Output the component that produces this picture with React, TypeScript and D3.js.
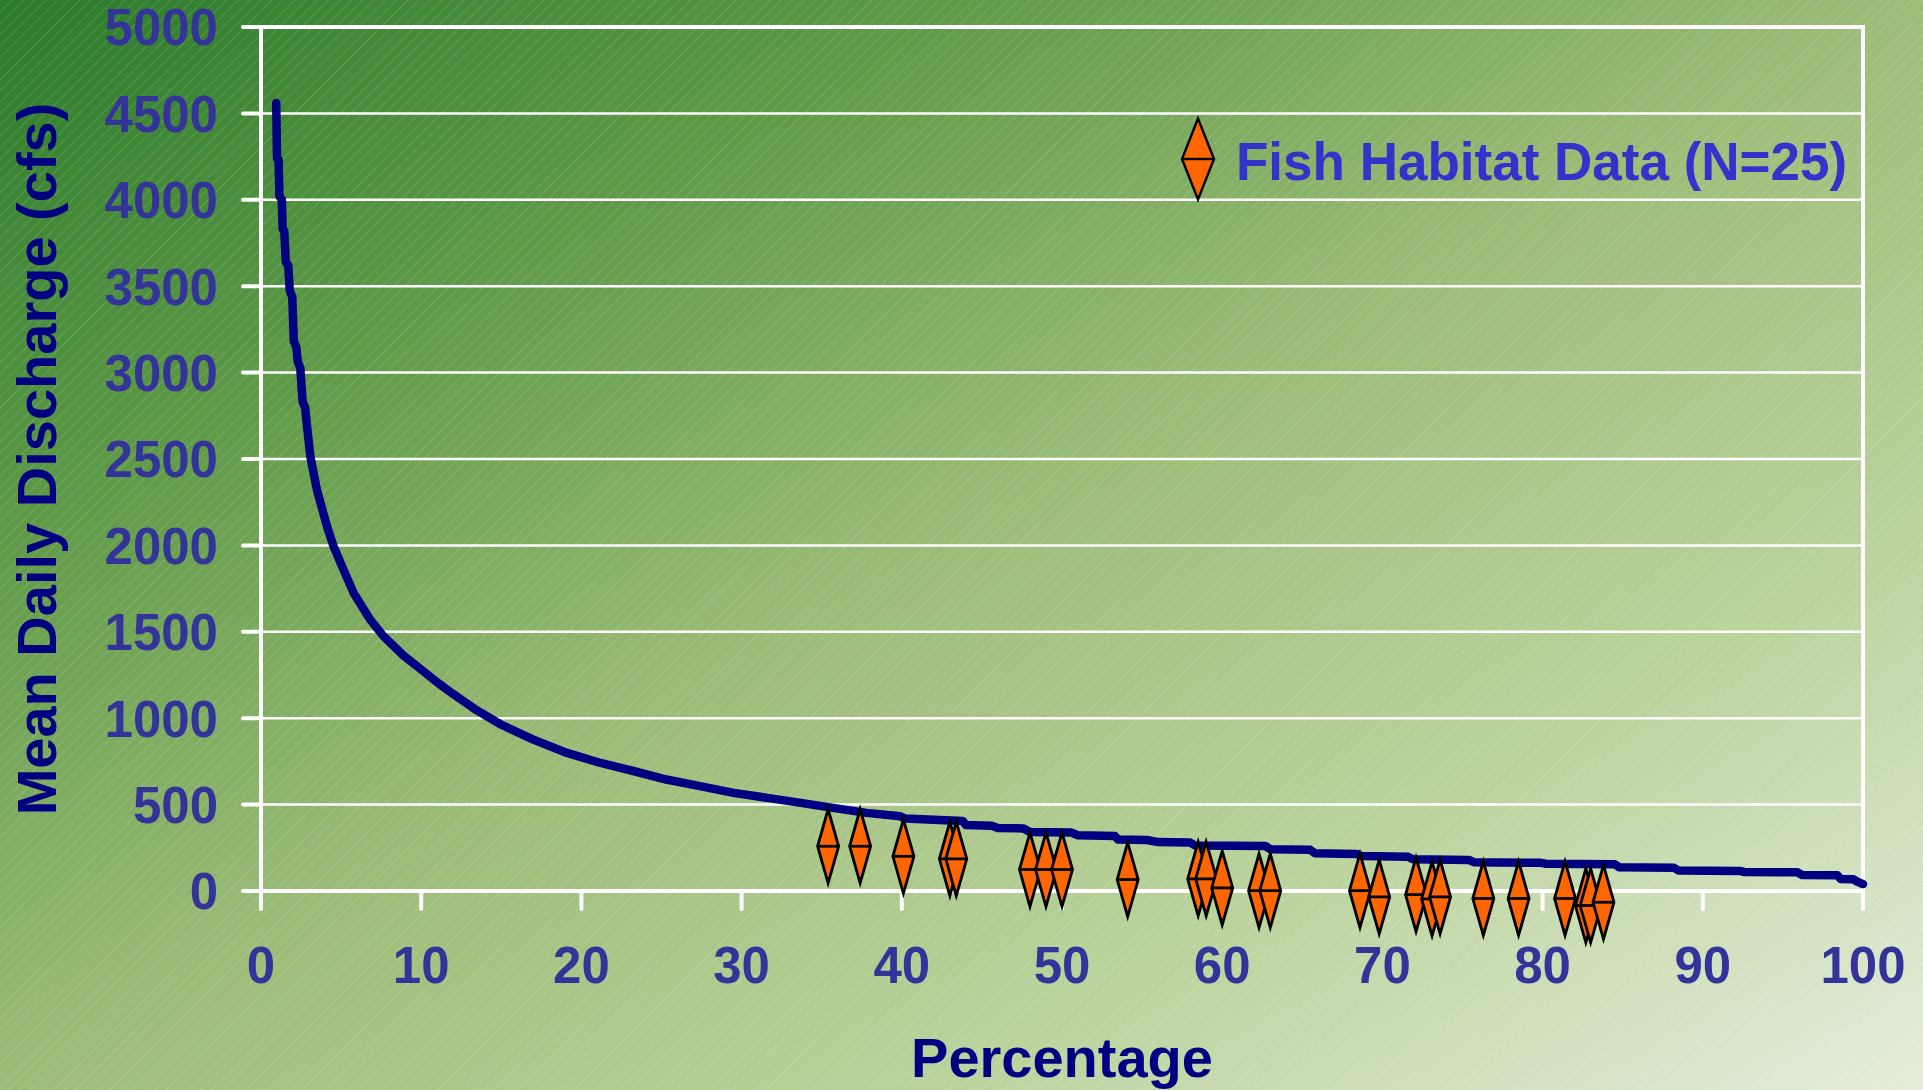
import * as d3 from "d3";

const W = 1923;
const H = 1090;

// axis ticks
const xTicks = [0, 10, 20, 30, 40, 50, 60, 70, 80, 90, 100];
const yTicks = [0, 500, 1000, 1500, 2000, 2500, 3000, 3500, 4000, 4500, 5000];

// flow duration curve (percent exceeded, cfs)
const curvePct = [
  0.95, 1.0, 1.1, 1.15, 1.3, 1.35, 1.45, 1.55, 1.7, 1.8, 1.95, 2.05, 2.2, 2.3,
  2.45, 2.6, 2.75, 2.85, 3.08, 3.49, 4.12, 4.53, 5.06, 5.78, 6.82, 7.65, 8.9,
  9.94, 10.99, 12.02, 13.48, 15.0, 17.0, 19.1, 21.2, 23.3, 25.3, 27.4, 29.5,
  31.6, 33.7, 35.7, 37.8, 39.9, 40.2, 43.8, 44.0, 45.6, 46.0, 47.6, 48.0, 50.6,
  51.0, 53.3, 53.5, 55.3, 56.0, 58.0, 58.3, 62.7, 63.0, 65.5, 65.8, 68.4, 68.7,
  71.6, 71.9, 75.4, 75.7, 79.9, 80.2, 84.5, 84.8, 88.2, 88.5, 92.3, 92.6, 95.9,
  96.2, 98.4, 98.6, 99.4, 99.6, 100,
];
const curveQ = [
  4560, 4240, 4230, 4020, 4000, 3830, 3820, 3640, 3620, 3470, 3440, 3180, 3150,
  3060, 3030, 2830, 2800, 2710, 2515, 2322, 2110, 1994, 1879, 1725, 1570, 1474,
  1362, 1286, 1208, 1138, 1045, 962, 876, 799, 741, 693, 645, 607, 568, 539,
  510, 481, 452, 432, 420, 405, 382, 378, 365, 362, 342, 338, 322, 318, 298,
  295, 283, 280, 264, 260, 242, 238, 218, 214, 202, 198, 184, 180, 167, 163,
  158, 155, 137, 134, 118, 116, 110, 108, 93, 91, 70, 68, 56, 40,
];

// fish habitat observations (N=25)
const habitatPct = [
  35.4, 37.4, 40.1, 43.0, 43.4, 48.0, 49.0, 50.0, 54.1, 58.5, 59.0, 60.0, 62.3,
  63.0, 68.6, 69.8, 72.1, 73.1, 73.6, 76.3, 78.5, 81.4, 82.7, 83.0, 83.8,
];
const habitatQ = [
  259, 259, 201, 186, 186, 124, 124, 124, 66, 70, 70, 18, 2, 2, 2, -34, -21,
  -46, -34, -43, -43, -43, -84, -84, -65,
];

const FONT = "'Liberation Sans', Arial, Helvetica, sans-serif";

function diamond(cx: number, cy: number, w: number, h: number) {
  return `M${cx},${cy - h / 2}L${cx + w / 2},${cy}L${cx},${cy + h / 2}L${cx - w / 2},${cy}Z`;
}

export default function App() {
  const x = d3.scaleLinear().domain([0, 100]).range([261, 1863]);
  const y = d3.scaleLinear().domain([0, 5000]).range([891, 27]);

  const pts: [number, number][] = curvePct.map((p, i) => [p, curveQ[i]]);
  const line = d3
    .line<[number, number]>()
    .x((d) => x(d[0]))
    .y((d) => y(d[1]));

  const x0 = x(0);
  const x1 = x(100);
  const yB = y(0);
  const yT = y(5000);
  const tick = 18;

  return (
    <div style={{ position: "absolute", left: 0, top: 0 }}>
      <svg width={W} height={H} style={{ display: "block" }}>
        <defs>
          <linearGradient id="bg" x1="0" y1="0" x2="1" y2="1">
            <stop offset="0" stopColor="#2a7a2a" />
            <stop offset="0.25" stopColor="#5f9a48" />
            <stop offset="0.5" stopColor="#9cbd78" />
            <stop offset="0.75" stopColor="#bcd39e" />
            <stop offset="1" stopColor="#e4eddb" />
          </linearGradient>
          <pattern
            id="hatch"
            width="8"
            height="8"
            patternUnits="userSpaceOnUse"
            patternTransform="rotate(45)"
          >
            <line x1="0" y1="0" x2="0" y2="8" stroke="#ffffff" strokeWidth="1" opacity="0.28" />
          </pattern>
        </defs>

        <rect width={W} height={H} fill="url(#bg)" />
        <rect width={W} height={H} fill="url(#hatch)" />

        {/* gridlines */}
        {yTicks.map((t) => (
          <line
            key={"g" + t}
            x1={x0}
            x2={x1}
            y1={y(t)}
            y2={y(t)}
            stroke="#ffffff"
            strokeWidth={t === 5000 ? 4 : 2.5}
          />
        ))}

        {/* y ticks */}
        {yTicks.map((t) => (
          <line
            key={"yt" + t}
            x1={x0 - tick}
            x2={x0}
            y1={y(t)}
            y2={y(t)}
            stroke="#ffffff"
            strokeWidth={4}
            strokeLinecap="round"
          />
        ))}

        {/* x ticks */}
        {xTicks.map((t) => (
          <line
            key={"xt" + t}
            x1={x(t)}
            x2={x(t)}
            y1={yB}
            y2={yB + tick}
            stroke="#ffffff"
            strokeWidth={4}
            strokeLinecap="round"
          />
        ))}

        {/* plot frame */}
        <line x1={x0} x2={x0} y1={yT - 2} y2={yB + 2} stroke="#ffffff" strokeWidth={4} />
        <line x1={x1} x2={x1} y1={yT - 2} y2={yB + 2} stroke="#ffffff" strokeWidth={4} />
        <line x1={x0 - tick} x2={x1 + 2} y1={yB} y2={yB} stroke="#ffffff" strokeWidth={4} />

        {/* duration curve */}
        <path
          d={line(pts) ?? ""}
          fill="none"
          stroke="#000080"
          strokeWidth={8.5}
          strokeLinejoin="round"
          strokeLinecap="round"
        />

        {/* habitat markers */}
        {habitatPct.map((p, i) => {
          const cx = x(p);
          const cy = y(habitatQ[i]);
          return (
            <g key={"m" + i}>
              <path d={diamond(cx, cy, 21, 74)} fill="#ff6600" stroke="#000000" strokeWidth={2.8} strokeLinejoin="miter" />
              <line x1={cx - 10.5} x2={cx + 10.5} y1={cy} y2={cy} stroke="#000000" strokeWidth={2.8} />
            </g>
          );
        })}

        {/* tick labels */}
        <g fontFamily={FONT} fontWeight="bold" fontSize={51} fill="#333399">
          {yTicks.map((t) => (
            <text key={"yl" + t} x={218} y={y(t)} dy="0.36em" textAnchor="end">
              {t}
            </text>
          ))}
          {xTicks.map((t) => (
            <text key={"xl" + t} x={x(t)} y={983} textAnchor="middle">
              {t}
            </text>
          ))}
        </g>

        {/* axis titles */}
        <text
          x={(x0 + x1) / 2}
          y={1077}
          textAnchor="middle"
          fontFamily={FONT}
          fontWeight="bold"
          fontSize={56}
          fill="#000080"
        >
          Percentage
        </text>
        <text
          transform={`translate(56,${(yT + yB) / 2}) rotate(-90)`}
          textAnchor="middle"
          fontFamily={FONT}
          fontWeight="bold"
          fontSize={56}
          fill="#000080"
        >
          Mean Daily Discharge (cfs)
        </text>

        {/* legend */}
        <g>
          <path d={diamond(1198, 159, 32, 81)} fill="#ff6600" stroke="#000000" strokeWidth={2.4} />
          <line x1={1182} x2={1214} y1={159} y2={159} stroke="#000000" strokeWidth={2.4} />
          <text x={1236} y={180} fontFamily={FONT} fontWeight="bold" fontSize={53} fill="#3333cc">
            Fish Habitat Data (N=25)
          </text>
        </g>
      </svg>
    </div>
  );
}
